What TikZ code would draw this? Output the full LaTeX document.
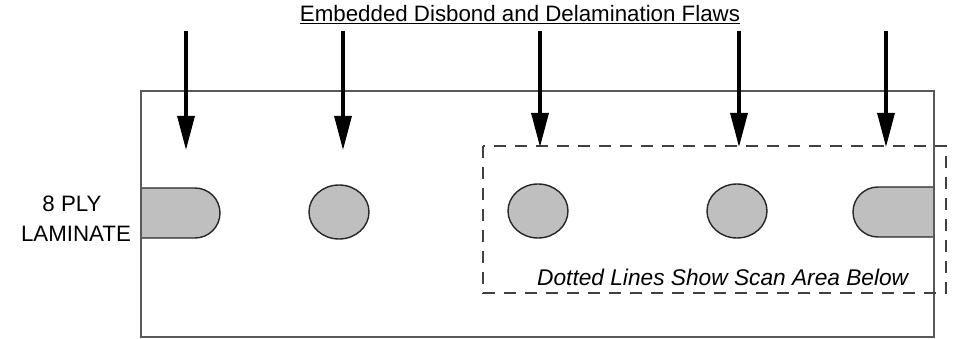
\documentclass[tikz,border=0pt]{standalone}
\usepackage{fontspec}
\setmainfont{Liberation Sans}
\usetikzlibrary{arrows.meta,shapes.geometric}
\tikzset{
  plate/.style={draw=black!65, line width=1.4pt},
  flaw/.style={draw=black!85, line width=1.4pt, fill=black!25},
  flawdisc/.style={flaw, ellipse, minimum width=60pt, minimum height=54pt, inner sep=0pt},
  scanbox/.style={draw=black!75, line width=1.3pt, dash pattern=on 12pt off 9pt},
  flawarrow/.style={line width=3.2pt, -{Triangle[length=34pt,width=17pt]}},
  lbl/.style={font=\fontsize{22.3}{26}\selectfont, inner sep=0pt, anchor=base}
}
\begin{document}
\begin{tikzpicture}[x=1pt,y=-1pt]
\useasboundingbox (0,0) rectangle (956,339);
% plate
\draw[plate] (141,91) rectangle (934,337);
% flaws
\draw[flaw] (141,188) -- (195,188) arc[start angle=-90, end angle=90, x radius=25, y radius=25] -- (141,238) -- cycle;
\node[flawdisc] (f2) at (339,212) {};
\node[flawdisc] (f3) at (538,211) {};
\node[flawdisc] (f4) at (737,211) {};
\draw[flaw] (934,187) -- (878,187) arc[start angle=-90, end angle=-270, x radius=25, y radius=25] -- (934,237) -- cycle;
\draw[plate] (141,91) -- (141,337) (934,91) -- (934,337);
% scan area
\draw[scanbox] (483,146) rectangle (946,293);
% arrows
\coordinate (a1s) at (186,31); \coordinate (a1e) at (186,150);
\coordinate (a2s) at (343,31); \coordinate (a2e) at (343,150);
\coordinate (a3s) at (540,31); \coordinate (a3e) at (540,147);
\coordinate (a4s) at (739,31); \coordinate (a4e) at (739,147);
\coordinate (a5s) at (886,31); \coordinate (a5e) at (886,147);
\draw[flawarrow] (a1s) -- (a1e);
\draw[flawarrow] (a2s) -- (a2e);
\draw[flawarrow] (a3s) -- (a3e);
\draw[flawarrow] (a4s) -- (a4e);
\draw[flawarrow] (a5s) -- (a5e);
% texts
\node[lbl] (title) at (520,22) {\underline{Embedded Disbond and Delamination Flaws}};
\node[lbl] (ply) at (72,212) {8 PLY};
\node[lbl] (lam) at (76,242) {LAMINATE};
\node[lbl, font=\fontsize{22.7}{26}\selectfont\itshape, anchor=base west] (scan) at (537,285) {Dotted Lines Show Scan Area Below};
\end{tikzpicture}
\end{document}
